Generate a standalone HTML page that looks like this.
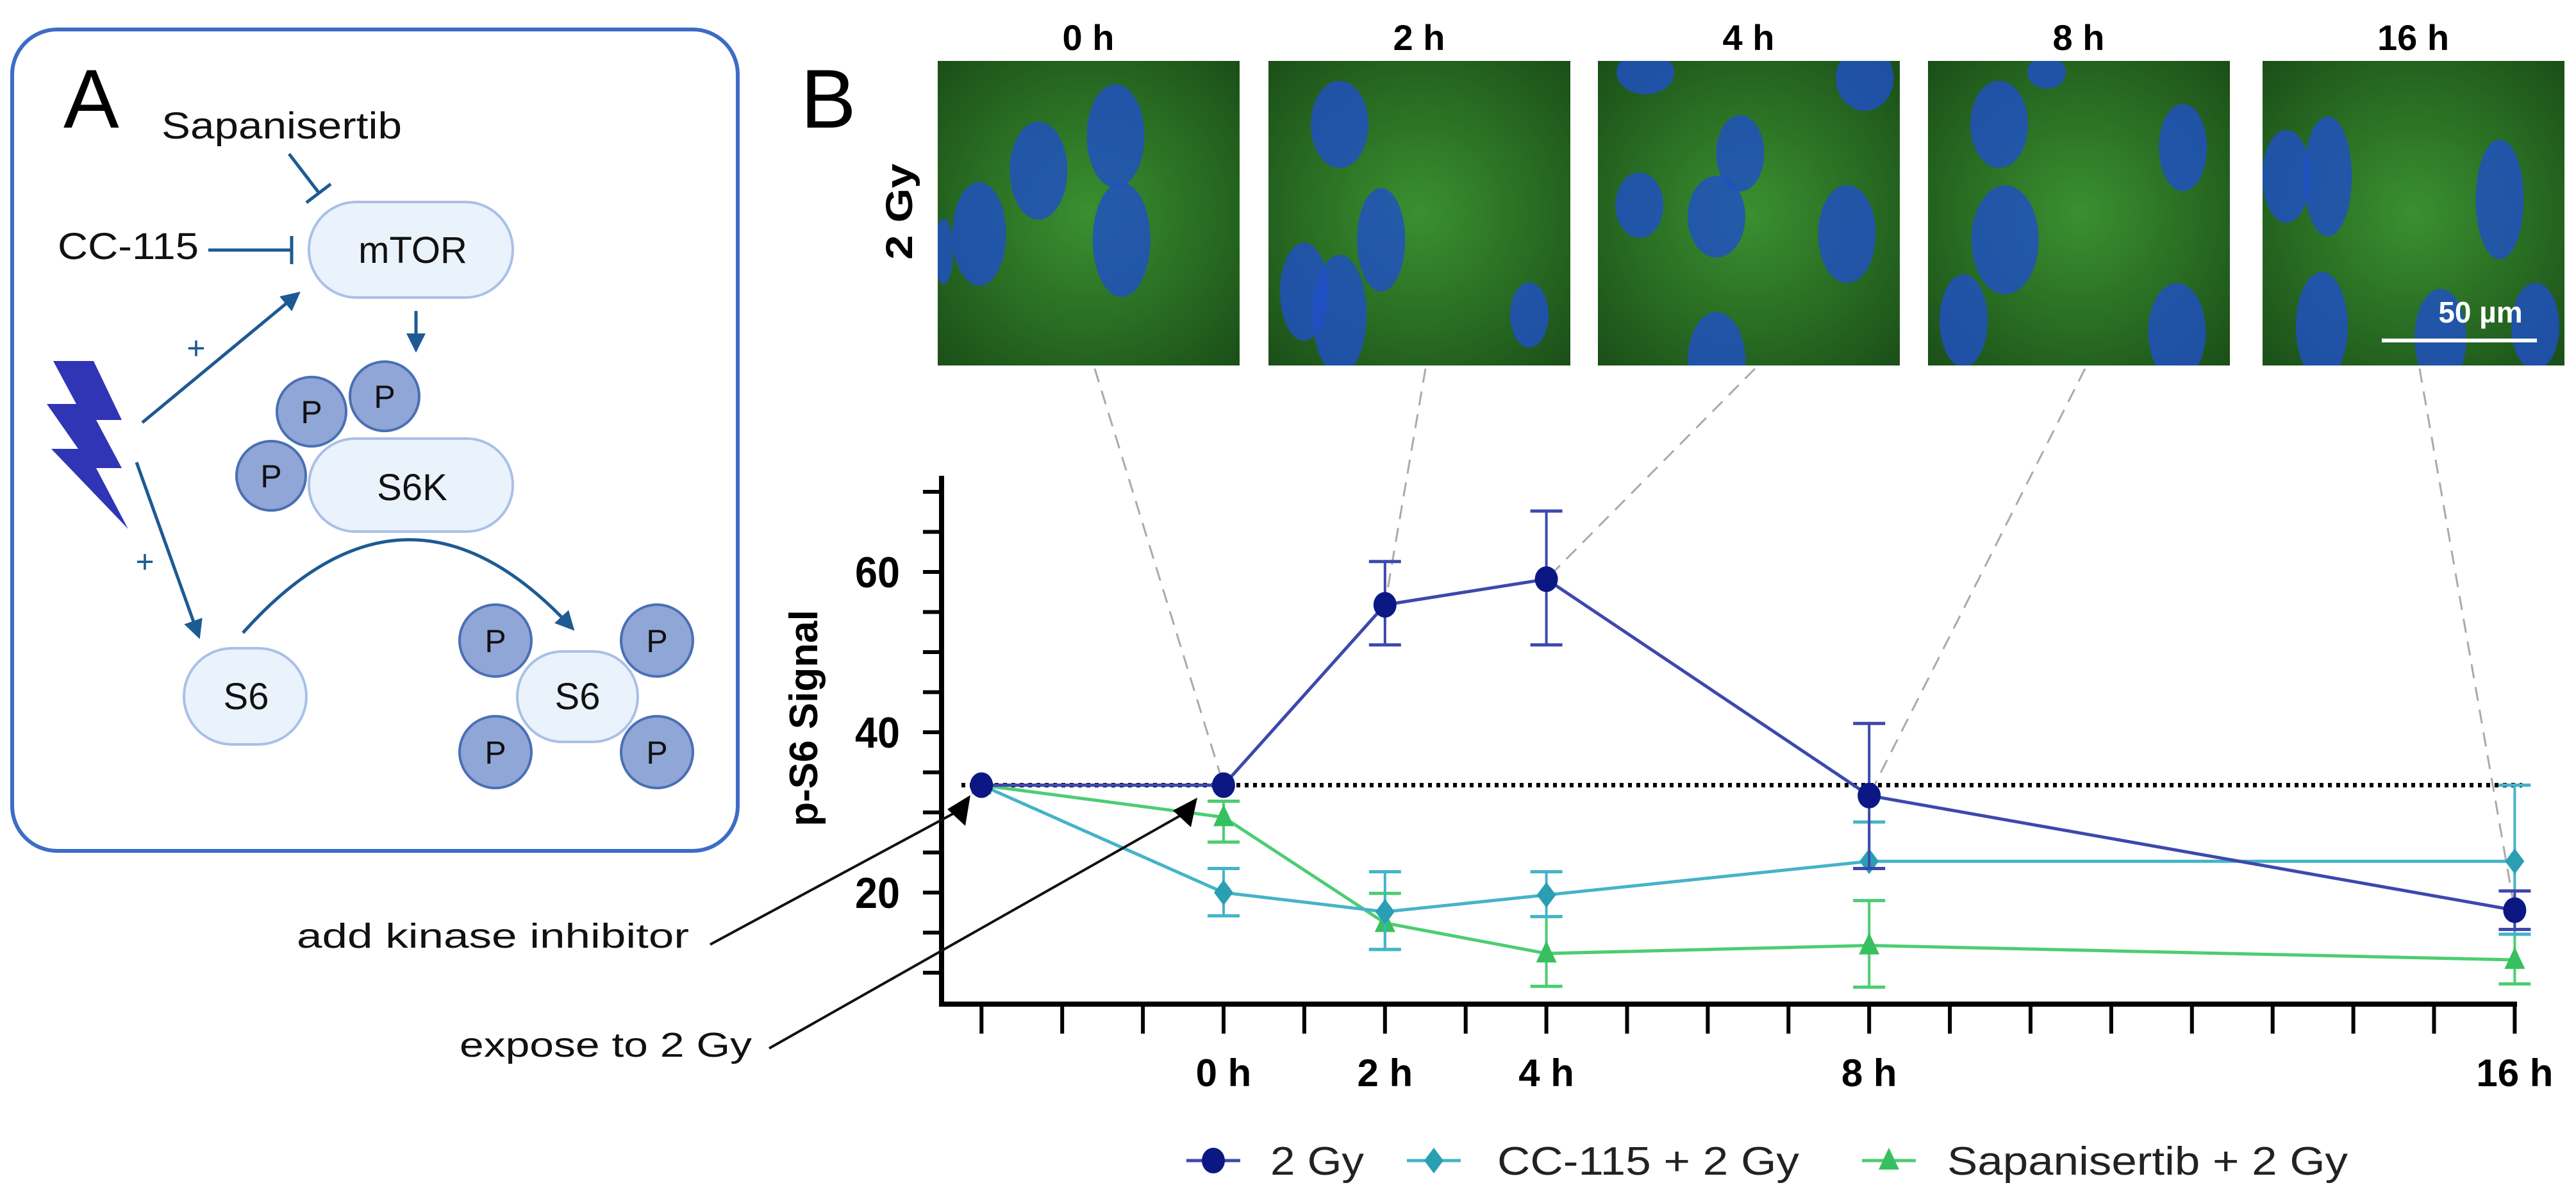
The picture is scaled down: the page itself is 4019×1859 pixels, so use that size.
<!DOCTYPE html>
<html><head><meta charset="utf-8"><style>
html,body{margin:0;padding:0;background:#fff}
svg{display:block}
text{font-family:"Liberation Sans",sans-serif}
</style></head><body>
<svg id="fig" width="4019" height="1859" viewBox="0 0 4019 1859" xmlns="http://www.w3.org/2000/svg">
<defs>
<radialGradient id="cellg" cx="50%" cy="50%" r="70%"><stop offset="0" stop-color="#3a9030"/><stop offset="1" stop-color="#1b4f18"/></radialGradient>
<marker id="ah" markerWidth="6" markerHeight="6" refX="5" refY="3" orient="auto" markerUnits="strokeWidth"><path d="M0,0 L6,3 L0,6 Z" fill="#1d5a94"/></marker>
</defs>

<g>
<rect x="19" y="46" width="1132" height="1281" rx="70" fill="#fff" stroke="#3d6cc7" stroke-width="6"/>
<text x="99" y="199" font-size="130" fill="#000">A</text>
<text x="252" y="216" font-size="58" fill="#111" textLength="375" lengthAdjust="spacingAndGlyphs">Sapanisertib</text>
<line x1="451" y1="240" x2="497" y2="300" stroke="#1d5a94" stroke-width="5"/>
<line x1="478" y1="316" x2="516" y2="287" stroke="#1d5a94" stroke-width="5"/>
<text x="90" y="404" font-size="58" fill="#111" textLength="220" lengthAdjust="spacingAndGlyphs">CC-115</text>
<line x1="325" y1="390" x2="455" y2="390" stroke="#1d5a94" stroke-width="5"/>
<line x1="455" y1="368" x2="455" y2="412" stroke="#1d5a94" stroke-width="5"/>
<rect x="482" y="315" width="318" height="149" rx="74" fill="#eaf2fc" stroke="#a9c0e6" stroke-width="4"/>
<text x="644" y="410" font-size="58" text-anchor="middle" fill="#111">mTOR</text>
<line x1="649" y1="485" x2="649" y2="545" stroke="#1d5a94" stroke-width="5" marker-end="url(#ah)"/>
<rect x="482" y="684" width="318" height="145" rx="72" fill="#eaf2fc" stroke="#a9c0e6" stroke-width="4"/>
<text x="643" y="780" font-size="58" text-anchor="middle" fill="#111">S6K</text>
<g fill="#8fa6d6" stroke="#4a6fb5" stroke-width="4">
<circle cx="486" cy="642" r="54"/><circle cx="600" cy="618" r="54"/><circle cx="423" cy="742" r="54"/>
</g>
<g font-size="50" text-anchor="middle" fill="#111"><text x="486" y="660">P</text><text x="600" y="636">P</text><text x="423" y="760">P</text></g>
<polygon fill="#2f35b5" points="83,563 146,563 190,655 150,655 190,730 150,730 200,825 80,700 122,700 73,630 119,630"/>
<line x1="222" y1="659" x2="465" y2="458" stroke="#1d5a94" stroke-width="5" marker-end="url(#ah)"/>
<text x="306" y="560" font-size="50" text-anchor="middle" fill="#1d5a94">+</text>
<line x1="213" y1="721" x2="310" y2="992" stroke="#1d5a94" stroke-width="5" marker-end="url(#ah)"/>
<text x="226" y="893" font-size="50" text-anchor="middle" fill="#1d5a94">+</text>
<rect x="287" y="1011" width="191" height="150" rx="75" fill="#eaf2fc" stroke="#a9c0e6" stroke-width="4"/>
<text x="384" y="1106" font-size="58" text-anchor="middle" fill="#111">S6</text>
<path d="M379,987 Q635,700 893,980" fill="none" stroke="#1d5a94" stroke-width="5" marker-end="url(#ah)"/>
<rect x="807" y="1016" width="188" height="141" rx="70" fill="#eaf2fc" stroke="#a9c0e6" stroke-width="4"/>
<text x="901" y="1106" font-size="58" text-anchor="middle" fill="#111">S6</text>
<g fill="#8fa6d6" stroke="#4a6fb5" stroke-width="4"><circle cx="773" cy="999" r="56"/><circle cx="1025" cy="999" r="56"/><circle cx="773" cy="1173" r="56"/><circle cx="1025" cy="1173" r="56"/></g>
<g font-size="50" text-anchor="middle" fill="#111"><text x="773" y="1017">P</text><text x="1025" y="1017">P</text><text x="773" y="1191">P</text><text x="1025" y="1191">P</text></g>
</g>

<text x="1249" y="199" font-size="130" fill="#000">B</text>
<text font-weight="bold" font-size="58" transform="translate(1423,330) rotate(-90)" text-anchor="middle" textLength="150" lengthAdjust="spacingAndGlyphs">2 Gy</text>
<g id="micro"></g>

<g id="chart"></g>

<text x="463" y="1478" font-size="54" fill="#111" textLength="612" lengthAdjust="spacingAndGlyphs">add kinase inhibitor</text>
<line x1="1108" y1="1473" x2="1500" y2="1262" stroke="#111" stroke-width="4"/>
<polygon points="1514,1240 1478,1262 1506,1288" fill="#000"/>
<text x="717" y="1648" font-size="54" fill="#111" textLength="456" lengthAdjust="spacingAndGlyphs">expose to 2 Gy</text>
<line x1="1200" y1="1635" x2="1852" y2="1266" stroke="#111" stroke-width="4"/>
<polygon points="1868,1244 1830,1264 1858,1290" fill="#000"/>
</svg>
<script>
// ---- chart data ----
const hours = [-3, 0, 2, 4, 8, 16];
const tickLabels = ["", "0 h", "2 h", "4 h", "8 h", "16 h"];
const yTicks = [20, 40, 60];
const baseline = 33.4;
const gy = [33.4, 33.4, 55.9, 59.1, 32.1, 17.8];
const gyHi = [33.4, 33.4, 61.3, 67.6, 41.1, 20.2];
const gyLo = [33.4, 33.4, 50.9, 50.9, 23.0, 15.4];
const cc = [33.4, 20.0, 17.6, 19.7, 23.9, 23.9];
const ccHi = [33.4, 23.0, 22.6, 22.6, 28.8, 33.4];
const ccLo = [33.4, 17.1, 12.9, 17.0, 23.0, 14.8];
const sap = [33.4, 29.4, 16.2, 12.4, 13.4, 11.6];
const sapHi = [33.4, 31.4, 19.9, 17.0, 19.0, 14.8];
const sapLo = [33.4, 26.3, 12.9, 8.3, 8.2, 8.6];
const imgHours = [0, 2, 4, 8, 16];
const imgLabels = ["0 h", "2 h", "4 h", "8 h", "16 h"];

const NS = "http://www.w3.org/2000/svg";
const X = h => 1909 + h * 125.9;
const Y = v => 1392 - (v - 20) * 12.5;
function mk(tag, at, parent) { const e = document.createElementNS(NS, tag); for (const k in at) e.setAttribute(k, at[k]); parent.appendChild(e); return e; }
const chart = document.getElementById('chart');
const micro = document.getElementById('micro');
const defs = document.querySelector('defs');

const imgX = [1463, 1979, 2493, 3008, 3530];
const nuclei = [
 [[150,130,30,95],[85,190,30,90],[155,310,30,105],[35,300,28,95],[5,330,10,60]],
 [[60,110,30,80],[95,310,25,95],[30,400,25,90],[60,440,28,110],[220,440,20,60]],
 [[40,20,30,40],[120,160,25,70],[35,250,25,60],[100,270,30,75],[210,300,30,90],[100,520,30,90],[225,30,30,60]],
 [[60,110,30,80],[65,310,35,100],[215,150,25,80],[30,450,25,85],[210,470,30,90],[100,20,20,30]],
 [[20,200,25,85],[55,200,25,110],[200,240,25,110],[50,460,27,100],[150,480,27,90],[230,460,25,80]]
];
imgHours.forEach((h, i) => {
  const cp = mk('clipPath', {id: 'clip' + i}, defs);
  mk('rect', {x: imgX[i], y: 95, width: 471, height: 475}, cp);
  const g = mk('g', {'clip-path': 'url(#clip' + i + ')'}, micro);
  
  
  mk('rect', {x: imgX[i], y: 95, width: 471, height: 475, fill: 'url(#cellg)'}, g);
  nuclei[i].forEach(n => mk('ellipse', {cx: imgX[i] + n[0] * 1.85, cy: 95 + n[1] * 0.9, rx: n[2] * 1.5, ry: n[3] * 0.85, fill: '#1f4fc8', opacity: 0.8}, g));
  const t = mk('text', {x: imgX[i] + 235, y: 78, 'font-size': 56, 'font-weight': 'bold', 'text-anchor': 'middle'}, micro);
  t.textContent = imgLabels[i];
  
  
  const idx = hours.indexOf(h);
  const l = mk('line', {x1: imgX[i] + 245, y1: 575, x2: X(h), y2: Y(gy[idx]), stroke: '#aaa', 'stroke-width': 3, 'stroke-dasharray': '22,14'}, chart);
  
  
});
const sb = mk('text', {x: 3870, y: 503, 'font-size': 46, fill: '#fff', 'text-anchor': 'middle', 'font-weight': 'bold'}, micro);
sb.textContent = '50 µm';


mk('line', {x1: 3716, y1: 531, x2: 3958, y2: 531, stroke: '#fff', 'stroke-width': 6}, micro);

const yAxis = mk('line', {x1: 1469, y1: 742, x2: 1469, y2: 1570, stroke: '#000', 'stroke-width': 8}, chart);


const xAxis = mk('line', {x1: 1465, y1: 1566, x2: 3927, y2: 1566, stroke: '#000', 'stroke-width': 8}, chart);


for (let v = 10; v <= 70; v += 5) mk('line', {x1: 1440, y1: Y(v), x2: 1469, y2: Y(v), stroke: '#000', 'stroke-width': 6}, chart);
yTicks.forEach(v => {
  const t = mk('text', {x: 1404, y: Y(v) + 24, 'font-size': 68, 'font-weight': 'bold', 'text-anchor': 'end', textLength: 70, lengthAdjust: 'spacingAndGlyphs'}, chart);
  t.textContent = v;
  
  
});
const yt = mk('text', {transform: 'translate(1275,1120) rotate(-90)', 'font-size': 62, 'font-weight': 'bold', 'text-anchor': 'middle'}, chart);
yt.textContent = 'p-S6 Signal';


for (let h = -3; h <= 16; h++) mk('line', {x1: X(h), y1: 1566, x2: X(h), y2: 1612, stroke: '#000', 'stroke-width': 6}, chart);
hours.forEach((h, i) => {
  if (!tickLabels[i]) return;
  const t = mk('text', {x: X(h), y: 1694, 'font-size': 60, 'font-weight': 'bold', 'text-anchor': 'middle'}, chart);
  t.textContent = tickLabels[i];
  
  
});
const bl = mk('line', {x1: 1500, y1: Y(baseline), x2: 3935, y2: Y(baseline), stroke: '#000', 'stroke-width': 7, 'stroke-dasharray': '6,7'}, chart);



function marker(shape, cx, cy, col, g) {
  if (shape === 'circle') return mk('ellipse', {cx, cy, rx: 18, ry: 20, fill: col}, g);
  if (shape === 'diamond') return mk('polygon', {points: `${cx},${cy-20} ${cx+15},${cy} ${cx},${cy+20} ${cx-15},${cy}`, fill: col}, g);
  return mk('polygon', {points: `${cx},${cy-20} ${cx+16},${cy+14} ${cx-16},${cy+14}`, fill: col}, g);
}
function series(name, vals, hi, lo, lineCol, markCol, shape) {
  const g = mk('g', {}, chart);
  
  
  mk('polyline', {points: hours.map((h, i) => X(h) + ',' + Y(vals[i])).join(' '), fill: 'none', stroke: lineCol, 'stroke-width': 5}, g);
  hours.forEach((h, i) => {
    if (hi[i] !== lo[i]) {
      const x = X(h);
      mk('line', {x1: x, y1: Y(hi[i]), x2: x, y2: Y(lo[i]), stroke: lineCol, 'stroke-width': 4}, g);
      mk('line', {x1: x - 25, y1: Y(hi[i]), x2: x + 25, y2: Y(hi[i]), stroke: lineCol, 'stroke-width': 5}, g);
      mk('line', {x1: x - 25, y1: Y(lo[i]), x2: x + 25, y2: Y(lo[i]), stroke: lineCol, 'stroke-width': 5}, g);
    }
    const m = marker(shape, X(h), Y(vals[i]), markCol, g);
    
    
  });
}
series('sapanisertib', sap, sapHi, sapLo, '#4ccd72', '#36c060', 'triangle');
series('cc115', cc, ccHi, ccLo, '#45b3c8', '#2a9fb4', 'diamond');
series('2gy', gy, gyHi, gyLo, '#3d48ad', '#0b1883', 'circle');

const legend = [['2 Gy', '#3d48ad', '#0b1883', 'circle', 1893, 1982, 146],
  ['CC-115 + 2 Gy', '#45b3c8', '#2a9fb4', 'diamond', 2237, 2336, 471],
  ['Sapanisertib + 2 Gy', '#4ccd72', '#36c060', 'triangle', 2947, 3038, 625]];
legend.forEach(L => {
  const g = mk('g', {}, chart);
  
  
  mk('line', {x1: L[4] - 42, y1: 1810, x2: L[4] + 42, y2: 1810, stroke: L[1], 'stroke-width': 5}, g);
  marker(L[3], L[4], 1810, L[2], g);
  const t = mk('text', {x: L[5], y: 1832, 'font-size': 62, fill: '#222', textLength: L[6], lengthAdjust: 'spacingAndGlyphs'}, g);
  t.textContent = L[0];
});
</script>
</body></html>
